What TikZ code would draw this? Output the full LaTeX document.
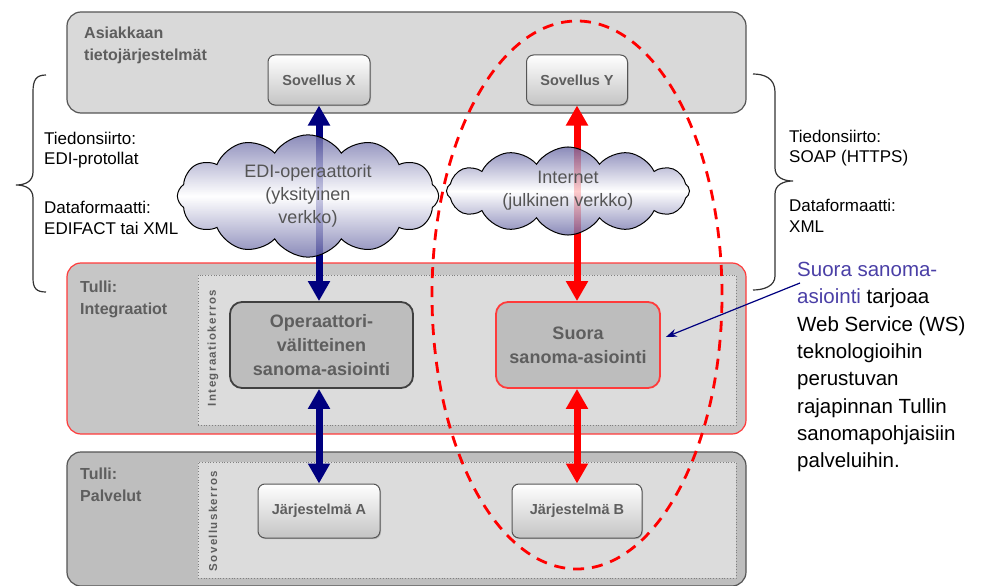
\documentclass[tikz,border=0pt]{standalone}
\usepackage{fontspec}
\setmainfont{Liberation Sans}
\newfontfamily\spacedfont[LetterSpace=12]{Liberation Sans}
\usetikzlibrary{shapes.symbols,arrows.meta,shadows}
\definecolor{titlegray}{HTML}{5E5E5E}
\definecolor{navyarrow}{HTML}{00007F}
\definecolor{redarrow}{HTML}{FF0000}
\definecolor{topfill}{HTML}{D9D9D9}
\definecolor{midfill}{HTML}{C6C6C6}
\definecolor{innerfill}{HTML}{DCDCDC}
\definecolor{botfill}{HTML}{BEBEBE}
\definecolor{boxfill}{HTML}{BDBDBD}
\definecolor{bordergray}{HTML}{555555}
\definecolor{cloudblue}{HTML}{6E6EA8}
\definecolor{annblue}{HTML}{4A3FA6}
\definecolor{redline}{HTML}{FF3B3B}
\tikzset{
  layer/.style={rounded corners=14pt, line width=1.2pt, minimum width=679pt},
  innerlayer/.style={draw=gray, dotted, line width=0.8pt, fill=innerfill, minimum width=538pt},
  smallbox/.style={rounded corners=7pt, draw=bordergray, line width=1pt, top color=white, bottom color=boxfill!90,
    drop shadow={shadow xshift=1pt, shadow yshift=-1.2pt, opacity=0.35},
    font=\bfseries\fontsize{14.5}{17}\selectfont, text=titlegray, inner sep=0pt},
  bigbox/.style={rounded corners=12pt, line width=1.8pt, fill=boxfill, align=center,
    font=\bfseries\fontsize{18}{24}\selectfont, text=titlegray, inner sep=0pt},
  title/.style={anchor=north west, align=left, inner sep=0pt, text=titlegray,
    font=\bfseries\fontsize{16}{22}\selectfont},
  sidetext/.style={anchor=west, align=left, inner sep=0pt, font=\fontsize{17}{20.5}\selectfont},
  vlabel/.style={rotate=90, inner sep=0pt, text=titlegray, font=\spacedfont\bfseries\fontsize{11.5}{13}\selectfont},
  bigarrow/.style={line width=7pt, {Triangle[width=21pt,length=20pt]}-{Triangle[width=21pt,length=20pt]}},
  netcloud/.style={cloud, cloud puffs=12, cloud puff arc=115, aspect=2.9, draw=black, line width=1pt,
    top color=cloudblue, bottom color=cloudblue, middle color=white, fill opacity=0.8, text opacity=1,
    align=center, text=titlegray!90!black, font=\fontsize{18}{23}\selectfont, inner sep=0pt},
  reddash/.style={draw=redarrow, line width=2.8pt, dash pattern=on 11pt off 8pt},
  bracestyle/.style={draw=black!80, line width=1.2pt},
  annarrow/.style={draw=navyarrow, line width=1.2pt, -{Stealth[length=11pt,width=8pt]}}
}
\begin{document}
\begin{tikzpicture}[x=1pt,y=-1pt]
\useasboundingbox (0,0) rectangle (983,586);
% layers
\node[layer, draw=bordergray, fill=topfill, minimum height=101pt] (toplayer) at (406.5,62.5) {};
\node[layer, draw=redline, fill=midfill, minimum height=171pt] (midlayer) at (406.5,348.5) {};
\node[innerlayer, minimum height=150pt] (midinner) at (467,350) {};
\node[layer, draw=bordergray, fill=botfill, minimum height=134pt] (botlayer) at (406.5,519) {};
\node[innerlayer, minimum height=116pt] (botinner) at (467,520) {};
% titles
\node[title] (t1) at (84,27) {Asiakkaan\\tietojärjestelmät};
\node[title] (t2) at (80,281) {Tulli:\\Integraatiot};
\node[title] (t3) at (80,468) {Tulli:\\Palvelut};
\node[vlabel] (v1) at (213,348) {Integraatiokerros};
\node[vlabel] (v2) at (213,521) {Sovelluskerros};
% boxes
\node[smallbox, minimum width=102pt, minimum height=50pt] (sovx) at (319,80) {Sovellus X};
\node[smallbox, minimum width=101pt, minimum height=50pt] (sovy) at (577,80) {Sovellus Y};
\node[bigbox, draw=black!75, minimum width=183pt, minimum height=86pt] (oper) at (321.5,345) {Operaattori-\\välitteinen\\sanoma-asiointi};
\node[bigbox, draw=redline, minimum width=164pt, minimum height=86pt] (suora) at (578,345) {Suora\\sanoma-asiointi};
\node[smallbox, minimum width=122pt, minimum height=54pt] (jarA) at (319,511) {Järjestelmä A};
\node[smallbox, minimum width=130pt, minimum height=54pt] (jarB) at (577,511) {Järjestelmä B};
% arrows
\draw[bigarrow, navyarrow] (sovx.south) -- (sovx.south |- oper.north);
\draw[bigarrow, navyarrow] (sovx.south |- oper.south) -- (jarA.north);
\draw[bigarrow, redarrow] (sovy.south) -- (sovy.south |- suora.north);
\draw[bigarrow, redarrow] (sovy.south |- suora.south) -- (jarB.north);
% clouds
\node[netcloud, minimum width=247pt, minimum height=92pt] (edi) at (308,196) {EDI-operaattorit\\(yksityinen\\verkko)};
\node[netcloud, minimum width=243pt, minimum height=84pt] (inet) at (568,191) {Internet\\(julkinen verkko)};
% dashed ellipse
\draw[reddash] (577,295) ellipse [x radius=145pt, y radius=274pt];
% braces
\draw[bracestyle] (46,75) .. controls (36,75) and (33,80) .. (33,92) -- (33,172)
  .. controls (33,181) and (26,185) .. (16,185) .. controls (26,185) and (33,189) .. (33,198)
  -- (33,278) .. controls (33,288) and (36,292) .. (46,292);
\draw[bracestyle] (753,74) .. controls (764,74) and (775,78) .. (775,92) -- (775,168)
  .. controls (775,177) and (783,181) .. (793,181) .. controls (783,181) and (775,185) .. (775,194)
  -- (775,276) .. controls (775,286) and (764,290) .. (753,290);
% side texts
\node[sidetext] (l1) at (44,150) {Tiedonsiirto:\\EDI-protollat};
\node[sidetext] (l2) at (44,218) {Dataformaatti:\\EDIFACT tai XML};
\node[sidetext] (r1) at (789,148) {Tiedonsiirto:\\SOAP (HTTPS)};
\node[sidetext] (r2) at (789,216) {Dataformaatti:\\XML};
% annotation
\node[anchor=north west, align=left, inner sep=0pt, font=\fontsize{20.5}{27.3}\selectfont] (ann) at (797,262)
  {{\color{annblue}Suora sanoma-}\\{\color{annblue}asiointi} tarjoaa\\Web Service (WS)\\teknologioihin\\perustuvan\\rajapinnan Tullin\\sanomapohjaisiin\\palveluihin.};
\coordinate (annstart) at (800,283);
\draw[annarrow] (annstart) -- ([xshift=5pt,yshift=8pt]suora.east);
\end{tikzpicture}
\end{document}
